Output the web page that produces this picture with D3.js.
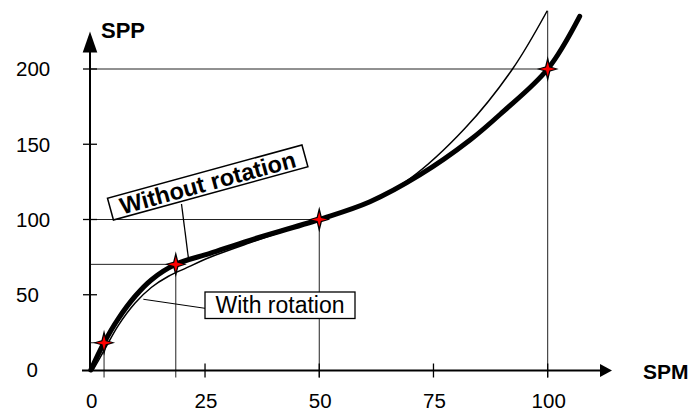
<!DOCTYPE html>
<html>
<head>
<meta charset="utf-8">
<script src="https://cdn.jsdelivr.net/npm/d3@7"></script>
<style>
  html, body { margin: 0; padding: 0; background: #fff; }
  svg { display: block; font-family: "Liberation Sans", Arial, sans-serif; }
</style>
</head>
<body>
<svg id="chart" width="693" height="412"></svg>
<script>
// SPP as a function of SPM, with and without rotation
const withoutX = [0, 2.9, 6.0, 9.7, 13.3, 18.6, 26.1, 34.8, 50, 61.1, 72.0, 83.0, 90, 100, 107];
const withoutY = [0, 18.1, 34, 49, 60, 70.2, 77.5, 86.2, 100, 111.8, 129.6, 152.8, 171, 200, 235];

const withX = [0.5, 3.1, 6.0, 9.7, 13.3, 17.0, 20.6, 26.1, 34.8, 50, 61.1, 69.8, 81.9, 92.3, 99.9];
const withY = [0, 14, 29.5, 44.5, 55, 62.3, 67.4, 74.9, 84.5, 100, 111.8, 127, 160.6, 200, 238.7];

// Marked operating points on the "without rotation" curve
const pointX = [2.9, 18.6, 50, 100];
const pointY = [18.1, 70.2, 100, 200];

const xTicks = [0, 25, 50, 75, 100];
const yTicks = [0, 50, 100, 150, 200];

const xTitle = "SPM";
const yTitle = "SPP";
const labelWithout = "Without rotation";
const labelWith = "With rotation";

const svg = d3.select("#chart");
const x = d3.scaleLinear().domain([0, 100]).range([90.8, 547.7]);
const y = d3.scaleLinear().domain([0, 200]).range([370, 69]);

const x0 = 90, y0 = 370.5;

// guide lines from the axes to each marked point
const guides = svg.append("g").attr("stroke", "#222").attr("stroke-width", 1);
pointX.forEach((px, i) => {
  const top = i === pointX.length - 1 ? y(withY[withY.length - 1]) : y(pointY[i]);
  guides.append("line")
    .attr("x1", x0).attr("x2", x(px))
    .attr("y1", y(pointY[i])).attr("y2", y(pointY[i]));
  guides.append("line")
    .attr("x1", x(px)).attr("x2", x(px))
    .attr("y1", top).attr("y2", y0 + 7);
});

// axes with arrow heads
const axes = svg.append("g").attr("stroke", "#000").attr("stroke-width", 2);
axes.append("line").attr("x1", 82).attr("x2", 601).attr("y1", y0).attr("y2", y0);
axes.append("line").attr("x1", x0).attr("x2", x0).attr("y1", y0 + 1).attr("y2", 52);
svg.append("path").attr("d", `M612,${y0} L600,${y0 - 6.5} L600,${y0 + 6.5} Z`).attr("fill", "#000");
svg.append("path").attr("d", `M${x0},31.5 L${x0 - 7.3},52.5 L${x0 + 7.3},52.5 Z`).attr("fill", "#000");

// ticks
xTicks.filter(d => d > 0).forEach(d => {
  axes.append("line").attr("stroke-width", 1.3)
    .attr("x1", x(d)).attr("x2", x(d)).attr("y1", y0 - 7).attr("y2", y0 + 7);
});
yTicks.filter(d => d > 0).forEach(d => {
  axes.append("line").attr("stroke-width", 1.3)
    .attr("x1", x0 - 7).attr("x2", x0 + 7).attr("y1", y(d)).attr("y2", y(d));
});

// tick labels
svg.append("g").selectAll("text").data(xTicks).join("text")
  .attr("x", d => x(d) + 1).attr("y", 408)
  .attr("text-anchor", "middle").attr("font-size", 20.5)
  .text(d => d);
svg.append("g").selectAll("text").data(yTicks).join("text")
  .attr("x", d => d === 0 ? 38 : 16).attr("y", d => y(d) + 7.3)
  .attr("text-anchor", d => d === 0 ? "end" : "start").attr("font-size", 20.5)
  .text(d => d);

// axis titles
svg.append("text").attr("x", 101).attr("y", 37.5)
  .attr("font-size", 22).attr("font-weight", "bold").text(yTitle);
svg.append("text").attr("x", 643).attr("y", 378.5)
  .attr("font-size", 21).attr("font-weight", "bold").text(xTitle);

// curves
const line = d3.line().x(d => x(d[0])).y(d => y(d[1])).curve(d3.curveCatmullRom.alpha(0.5));
svg.append("path")
  .datum(withX.map((v, i) => [v, withY[i]]))
  .attr("d", line).attr("fill", "none")
  .attr("stroke", "#000").attr("stroke-width", 1.5);
svg.append("path")
  .datum(withoutX.map((v, i) => [v, withoutY[i]]))
  .attr("d", line).attr("fill", "none")
  .attr("stroke", "#000").attr("stroke-width", 5)
  .attr("stroke-linecap", "round");

// four-pointed star markers
function star(h, w, r) {
  return `M0,${-h} L${r},${-r} L${w},0 L${r},${r} L0,${h} L${-r},${r} L${-w},0 L${-r},${-r} Z`;
}
const marks = svg.append("g").selectAll("g")
  .data(pointX.map((v, i) => [v, pointY[i]])).join("g")
  .attr("transform", d => `translate(${x(d[0])},${y(d[1])})`);
marks.append("path").attr("d", star(13, 11, 2.6)).attr("fill", "#000");
marks.append("path").attr("d", star(7.5, 8, 1.6)).attr("fill", "#ff0000");

// callout: without rotation (rotated box)
svg.append("line")
  .attr("x1", 181.5).attr("y1", 204)
  .attr("x2", x(21.4)).attr("y2", y(73.5))
  .attr("stroke", "#000").attr("stroke-width", 1.3);
const cw = svg.append("g").attr("transform", "translate(207.7,182.5) rotate(-15.3)");
cw.append("rect").attr("x", -100.8).attr("y", -11.3).attr("width", 201.6).attr("height", 22.6)
  .attr("fill", "#fff").attr("stroke", "#000").attr("stroke-width", 1.5);
cw.append("text").attr("x", 0).attr("y", 8.3).attr("text-anchor", "middle")
  .attr("font-size", 23.5).attr("font-weight", "bold").text(labelWithout);

// callout: with rotation
svg.append("line")
  .attr("x1", 205).attr("y1", 308.3)
  .attr("x2", x(11.5)).attr("y2", y(47))
  .attr("stroke", "#000").attr("stroke-width", 1);
svg.append("rect").attr("x", 205).attr("y", 292).attr("width", 150).attr("height", 26.5)
  .attr("fill", "#fff").attr("stroke", "#000").attr("stroke-width", 1.3);
svg.append("text").attr("x", 280).attr("y", 313).attr("text-anchor", "middle")
  .attr("font-size", 23).text(labelWith);
</script>
</body>
</html>
